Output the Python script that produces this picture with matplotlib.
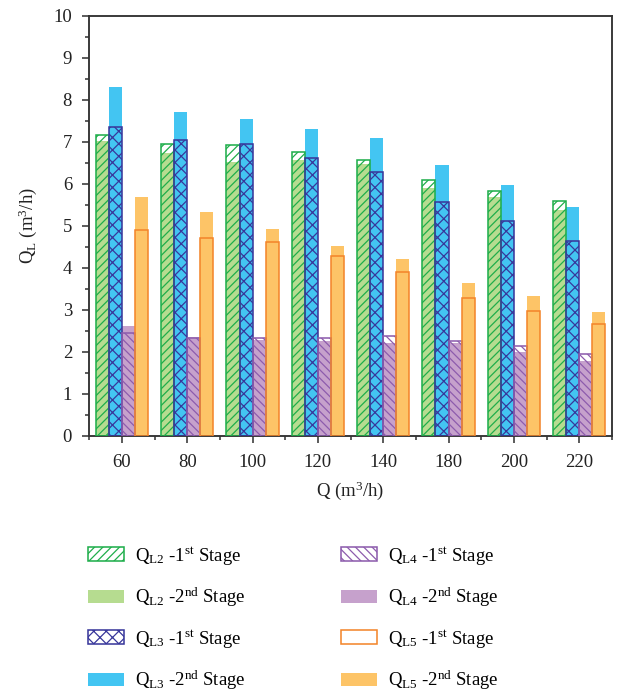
import numpy as np
import matplotlib
matplotlib.use("Agg")
import matplotlib.pyplot as plt
from matplotlib.patches import Patch
from matplotlib.ticker import MultipleLocator, FixedLocator

# ── data ──
flow = ["60", "80", "100", "120", "140", "180", "200", "220"]

ql2_1st = [7.15, 6.94, 6.92, 6.75, 6.56, 6.09, 5.84, 5.59]
ql2_2nd = [7.01, 6.74, 6.53, 6.56, 6.48, 5.91, 5.68, 5.37]
ql3_1st = [7.35, 7.05, 6.95, 6.62, 6.29, 5.56, 5.12, 4.64]
ql3_2nd = [8.30, 7.70, 7.55, 7.31, 7.09, 6.44, 5.98, 5.44]
ql4_1st = [2.44, 2.34, 2.33, 2.33, 2.37, 2.27, 2.14, 1.95]
ql4_2nd = [2.61, 2.35, 2.28, 2.26, 2.22, 2.22, 2.00, 1.79]
ql5_1st = [4.90, 4.71, 4.61, 4.29, 3.90, 3.29, 2.97, 2.67]
ql5_2nd = [5.68, 5.34, 4.93, 4.51, 4.20, 3.65, 3.33, 2.95]

# ── style ──
plt.rcParams["font.family"] = ["Liberation Serif", "DejaVu Serif"]
plt.rcParams["mathtext.fontset"] = "custom"
plt.rcParams["mathtext.rm"] = "Liberation Serif"
plt.rcParams["mathtext.it"] = "Liberation Serif:italic"
plt.rcParams["hatch.linewidth"] = 1.2

DARK = "#333333"
TXT = "#222222"
FS = 18
series = [
    # (name, 1st, 2nd, edge colour, fill colour, hatch)
    ("L2", ql2_1st, ql2_2nd, "#1fae4b", "#b6dc90", "///"),
    ("L3", ql3_1st, ql3_2nd, "#38379b", "#43c5f2", "xx"),
    ("L4", ql4_1st, ql4_2nd, "#8d5cad", "#c6a1cc", "\\\\\\"),
    ("L5", ql5_1st, ql5_2nd, "#f3852a", "#fdc467", ""),
]

fig = plt.figure(figsize=(618 / 75, 695 / 75), dpi=75)
ax = fig.add_axes([0.1445, 0.3727, 0.8455, 0.6047])

x = np.arange(len(flow))
w = 0.2
offsets = [-1.5 * w, -0.5 * w, 0.5 * w, 1.5 * w]

# 2nd stage: solid bars behind
for (name, s1, s2, ec, fc, hatch), off in zip(series, offsets):
    ax.bar(x + off, s2, width=w, color=fc, edgecolor="none", zorder=2)

# 1st stage: hollow hatched bars on top
for (name, s1, s2, ec, fc, hatch), off in zip(series, offsets):
    ax.bar(x + off, s1, width=w, facecolor="none", edgecolor=ec,
           hatch=hatch, linewidth=1.5, zorder=3)

ax.set_xlim(-0.5, 7.5)
ax.set_ylim(0, 10)
ax.set_xticks(x)
ax.set_xticklabels(flow)
ax.xaxis.set_minor_locator(FixedLocator(np.arange(-0.5, 8, 1.0)))
ax.yaxis.set_major_locator(MultipleLocator(1))
ax.yaxis.set_minor_locator(MultipleLocator(0.5))

for sp in ax.spines.values():
    sp.set_linewidth(1.8)
    sp.set_color(DARK)
ax.tick_params(which="both", direction="out", color=DARK, width=1.5,
               labelsize=FS, labelcolor=TXT)
ax.tick_params(which="major", length=6.5)
ax.tick_params(axis="x", which="major", pad=11)
ax.tick_params(axis="y", which="major", pad=10)
ax.tick_params(which="minor", length=3.5)

ax.set_xlabel("Q (m$^3$/h)", fontsize=FS, labelpad=8, color=TXT)
ax.set_ylabel("Q$_\\mathrm{L}$ (m$^3$/h)", fontsize=FS, labelpad=14, color=TXT)

# ── legend ──
handles = []
labels = []
for name, s1, s2, ec, fc, hatch in series:
    handles.append(Patch(facecolor="white", edgecolor=ec, hatch=hatch, linewidth=1.5))
    labels.append("Q$_\\mathrm{%s}$ -1$^\\mathrm{st}$ Stage" % name)
    handles.append(Patch(facecolor=fc, edgecolor="none"))
    labels.append("Q$_\\mathrm{%s}$ -2$^\\mathrm{nd}$ Stage" % name)

fig.legend(handles, labels, ncol=2, loc="upper left",
           bbox_to_anchor=(0.13, 0.227), frameon=False, fontsize=FS,
           handlelength=1.95, handleheight=0.72, handletextpad=0.55,
           labelspacing=1.0, columnspacing=5.1, borderaxespad=0)

fig.savefig("out.png", dpi=75)
